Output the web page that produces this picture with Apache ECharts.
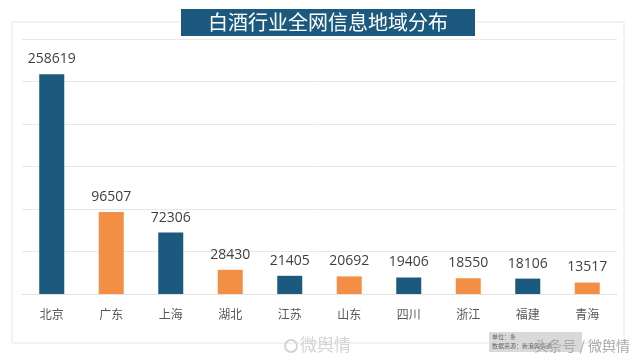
<!DOCTYPE html>
<html><head><meta charset="utf-8">
<script src="https://cdn.jsdelivr.net/npm/echarts@6/dist/echarts.min.js"></script>
<style>html,body{margin:0;padding:0;background:#fff}#c{width:640px;height:358px}</style>
</head><body><div id="c"></div>
<script>
const categories = ['北京','广东','上海','湖北','江苏','山东','四川','浙江','福建','青海'];
const values = [258619,96507,72306,28430,21405,20692,19406,18550,18106,13517];
const titleText = '白酒行业全网信息地域分布';
const BLUE = '#1b5a7e', ORANGE = '#f28f44';
const FONT = '"Open Sans","Noto Sans CJK SC",sans-serif';
const chart = echarts.init(document.getElementById('c'));
chart.setOption({
  animation: false,
  grid: {left: 22, right: 23, top: 39, bottom: 64},
  xAxis: {
    type: 'category', data: categories,
    axisLine: {lineStyle: {color: '#e3e3e3'}},
    axisTick: {show: false},
    axisLabel: {color: '#595959', fontSize: 12, margin: 16, fontFamily: FONT}
  },
  yAxis: {
    type: 'value', min: 0, max: 300000, interval: 50000,
    axisLabel: {show: false}, axisLine: {show: false}, axisTick: {show: false},
    splitLine: {lineStyle: {color: '#e8e8e8'}}
  },
  series: [{
    type: 'bar', barWidth: 25,
    data: values.map((v, i) => ({value: v, itemStyle: {color: i % 2 === 0 ? BLUE : ORANGE}})),
    label: {show: true, position: 'top', distance: 8, color: '#404040', fontSize: 14, fontFamily: FONT}
  }],
  graphic: [
    {type: 'rect', shape: {x: 12, y: 22, width: 612, height: 321}, style: {fill: 'none', stroke: '#e6e6e6', lineWidth: 1}, z: -1},
    {type: 'rect', shape: {x: 181, y: 9, width: 294, height: 27}, style: {fill: BLUE}, z: 10},
    {type: 'text', x: 328, y: 22.5, style: {text: titleText, fill: '#fff', font: '20px "Noto Sans CJK SC",sans-serif', textAlign: 'center', textVerticalAlign: 'middle'}, z: 11},
    {type: 'text', x: 300, y: 345, style: {text: '微舆情', fill: '#d4d4d4', font: '17px "Noto Sans CJK SC",sans-serif', textAlign: 'left', textVerticalAlign: 'middle'}, z: 11},
    {type: 'circle', shape: {cx: 291, cy: 346, r: 6}, style: {fill: 'none', stroke: '#d4d4d4', lineWidth: 2}, z: 11},
    {type: 'rect', shape: {x: 489, y: 332, width: 93, height: 20}, style: {fill: '#d9d9d9'}, z: 10},
    {type: 'text', x: 492, y: 337, style: {text: '单位：条', fill: '#666', font: '6px "Noto Sans CJK SC",sans-serif', textVerticalAlign: 'middle'}, z: 11},
    {type: 'text', x: 492, y: 346, style: {text: '数据来源：新浪舆情通', fill: '#666', font: '6px "Noto Sans CJK SC",sans-serif', textVerticalAlign: 'middle'}, z: 11},
    {type: 'text', x: 630, y: 346, style: {text: '头条号 / 微舆情', fill: '#aaa', font: '14px "Noto Sans CJK SC",sans-serif', textAlign: 'right', textVerticalAlign: 'middle'}, z: 12}
  ]
});
</script></body></html>
